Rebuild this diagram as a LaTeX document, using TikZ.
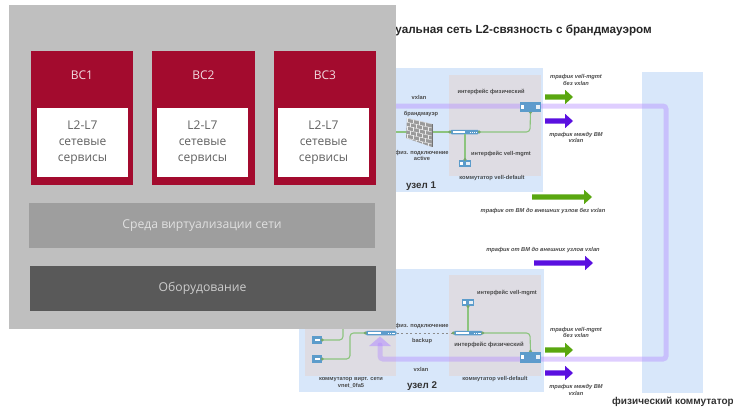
\documentclass[tikz,border=0pt]{standalone}
\usepackage{fontspec}
\setmainfont{Liberation Sans}
\newfontfamily\panelfont{Open Sans}
\usetikzlibrary{arrows.meta}
\definecolor{nodeblue}{HTML}{D8E7FA}
\definecolor{innergray}{HTML}{DEDCE3}
\definecolor{wire}{HTML}{8CC47E}
\definecolor{iface}{HTML}{5C9CCB}
\definecolor{crimson}{HTML}{A30B2E}
\definecolor{lbl}{HTML}{4A4A4A}
\definecolor{flowgreen}{HTML}{5AA710}
\definecolor{flowviolet}{HTML}{5A10E0}
\definecolor{vlancol}{HTML}{B48CFF}
\definecolor{wallgray}{HTML}{9A9A9A}
\tikzset{
  tiny/.style={font=\fontsize{5.7}{6.6}\selectfont\bfseries,text=lbl,align=center,inner sep=0pt},
  itl/.style={font=\fontsize{5.7}{6.6}\selectfont\bfseries\itshape,text=lbl,align=center,inner sep=0pt},
  big/.style={font=\fontsize{9.8}{11}\selectfont\bfseries,text=black!80,inner sep=0pt},
  zone/.style={fill=nodeblue,draw=none},
  inner/.style={fill=innergray,draw=none},
  wireline/.style={draw=wire,line width=1.1pt,rounded corners=3.5pt},
  vlan/.style={draw=vlancol,draw opacity=.42,line width=5pt,rounded corners=3pt,line cap=round},
  ifacebox/.style={fill=iface,draw=none,inner sep=0pt},
  sw/.style={fill=iface,draw=none,inner sep=0pt,rounded corners=1.5pt,minimum height=4.5pt,minimum width=29pt},
  crimsonbox/.style={fill=crimson,draw=none,inner sep=0pt,minimum width=102.5pt,minimum height=134pt},
  whitebox/.style={fill=white,draw=none,inner sep=0pt,minimum width=91pt,minimum height=69pt,
     font=\panelfont\fontsize{12}{16}\selectfont,text=black!62,align=center},
  bctext/.style={font=\panelfont\fontsize{12}{14}\selectfont,text=white!85!crimson,inner sep=0pt},
  barbox/.style={draw=none,inner sep=0pt,minimum width=346pt,minimum height=45pt,font=\panelfont\fontsize{12.2}{14}\selectfont},
}
\newcommand{\flowarrow}[5]{\fill[#1] (#2,#5-2.6) -- (#3-#4,#5-2.6) -- (#3-#4,#5-7.2) -- (#3,#5) -- (#3-#4,#5+7.2) -- (#3-#4,#5+2.6) -- (#2,#5+2.6) -- cycle;}
\newcommand{\portpair}[1]{%
  \fill[white] ([xshift=1.5pt,yshift=-1.7pt]#1.west) rectangle ++(2.6pt,3.4pt);
  \fill[white!85!iface] ([xshift=-5pt,yshift=-1.7pt]#1.east) rectangle ++(3.4pt,3.4pt);}
\newcommand{\swbar}[1]{%
  \fill[white] ([xshift=3pt,yshift=-1pt]#1.west) rectangle ++(12.5pt,2pt);
  \foreach \k in {0,1.9,3.8,5.7} \fill[white] ([xshift=-9pt+\k pt,yshift=-.5pt]#1.east) rectangle ++(1.1pt,1pt);}
\begin{document}
\begin{tikzpicture}[x=1pt,y=-1pt]
\useasboundingbox (0,0) rectangle (733,410);
\fill[white] (0,0) rectangle (733,410);
% title
\node[font=\fontsize{11.7}{13}\selectfont\bfseries,text=black!85,anchor=east,inner sep=0pt] (title) at (652,30) {Виртуальная сеть L2-связность с брандмауэром};
% zones
\fill[zone] (300,68) rectangle (543,192);
\fill[zone] (299,269) rectangle (544,392);
\fill[zone] (642,72) rectangle (703,393);
\fill[inner] (449,75) rectangle (541,176);
\fill[inner] (305,275) rectangle (396,376);
\fill[inner] (449,275) rectangle (541,376);
% devices, node 1
\node[sw] (swA) at (464.5,132) {};
\node[ifacebox,minimum width=21pt,minimum height=10pt] (phyA) at (530.5,107) {};
\node[ifacebox,minimum width=12pt,minimum height=7.5pt] (mgA) at (465,163.5) {};
\coordinate (wa) at (419.5,132);
\coordinate (lefta) at (300,132);
% devices, node 2
\node[sw,minimum width=31pt] (swB) at (381,333) {};
\node[sw] (swC) at (468,333) {};
\node[ifacebox,minimum width=21pt,minimum height=11pt] (phyB) at (530.5,357) {};
\node[ifacebox,minimum width=12pt,minimum height=7.5pt] (mgB) at (468,302.5) {};
\node[ifacebox,minimum width=10pt,minimum height=8pt] (vmA) at (317,340) {};
\node[ifacebox,minimum width=10pt,minimum height=8pt] (vmB) at (317,359) {};
\node[ifacebox,minimum width=10pt,minimum height=8pt] (vmC) at (317,322) {};
% green wires
\draw[wireline] (lefta) -- (wa) -- (swA.west);
\draw[wireline] (swA.east) -- (530,132) -- (phyA.south);
\draw[wireline] (mgA.north) -- (mgA.north |- swA.south);
\draw[wireline] (vmA.east) -- (343,340) -- (343,322) -- (vmC.east);
\draw[wireline] (vmB.east) -- (350,359) -- (350,333) -- (swB.west);
\draw[wireline] (swC.east) -- (530,333) -- (phyB.north);
\draw[wireline] (mgB.south) -- (mgB.south |- swC.north);
\draw[black!45,line width=.9pt,dash pattern=on 2pt off 2.5pt] (swB.east) -- (swC.west);
\foreach \p in {(lefta),(wa),(swA.west),(swA.east)} \fill[wire!85!black] \p circle (1.7pt);
\foreach \p in {(phyA.south),(mgA.north),(swC.west),(swC.east),(phyB.north),(mgB.south),(swB.west),(vmA.east),(vmB.east)} \fill[wire!85!black] \p circle (1.6pt);
% vxlan path
\coordinate (turn) at (666,359);
\draw[vlan] (300,106) -- (666,106) -- (turn) -- (380,359) -- (380,345);
\fill[vlancol,opacity=.55] (380,336.5) -- (391,346) -- (369,346) -- cycle;
% redraw ports on the path
\node[ifacebox,minimum width=21pt,minimum height=10pt,fill opacity=.9] (phyA2) at (phyA) {};
\node[ifacebox,minimum width=21pt,minimum height=11pt,fill opacity=.9] (phyB2) at (phyB) {};
\portpair{phyA}\portpair{phyB}\portpair{mgA}\portpair{mgB}
\swbar{swA}\swbar{swB}\swbar{swC}
\foreach \n in {vmA,vmB} \fill[white] ([xshift=-2.5pt,yshift=-1pt]\n.center) rectangle ++(5pt,2pt);
% firewall
\begin{scope}
  \fill[wallgray] (407,118) -- (432,124) -- (432,147) -- (406,138) -- cycle;
  \clip (407,118) -- (432,124) -- (432,147) -- (406,138) -- cycle;
  \foreach \r in {0,...,5} {
    \draw[white!85!gray,line width=.5pt] (406,118+\r*4) -- (433,124.2+\r*4);
    \foreach \c in {0,...,4} {
      \pgfmathsetmacro{\xx}{407+\c*6.2+mod(\r,2)*3.1}
      \pgfmathsetmacro{\yy}{118+\r*4+(\xx-407)*0.24}
      \draw[white!85!gray,line width=.5pt] (\xx,\yy) -- (\xx,\yy+4);
    }
  }
\end{scope}
\draw[black!55,line width=.7pt] (432,124) -- (432,147);
% flow arrows
\flowarrow{flowgreen}{545}{573}{8}{97}
\flowarrow{flowviolet}{545}{573}{8}{121}
\flowarrow{flowgreen}{532}{592}{8}{197}
\flowarrow{flowviolet}{534}{593}{8}{263}
\flowarrow{flowgreen}{545}{573}{8}{350}
\flowarrow{flowviolet}{545}{573}{8}{373}
% labels
\node[itl] (l1) at (576,80) {трафик vell-mgmt\\без vxlan};
\node[itl] (l2) at (576,137.5) {трафик между ВМ\\vxlan};
\node[itl] (l3) at (543,211) {трафик от ВМ до внешних узлов без vxlan};
\node[itl] (l4) at (543,250) {трафик от ВМ до внешних узлов vxlan};
\node[itl] (l5) at (576,332.5) {трафик vell-mgmt\\без vxlan};
\node[itl] (l6) at (576,390) {трафик между ВМ\\vxlan};
\node[tiny] (t1) at (491,92) {интерфейс физический};
\node[tiny] (t2) at (419,97) {vxlan};
\node[tiny] (t3) at (421,114) {брандмауэр};
\node[tiny] (t4) at (422,155.5) {физ. подключение\\active};
\node[tiny] (t5) at (501,154) {интерфейс vell-mgmt};
\node[tiny] (t6) at (492,178) {коммутатор vell-default};
\node[big] (u1) at (421,186) {узел 1};
\node[tiny] (t7) at (507,293) {интерфейс vell-mgmt};
\node[tiny] (t8) at (422,326) {физ. подключение};
\node[tiny] (t9) at (422,341) {backup};
\node[tiny,font=\fontsize{5.9}{7}\selectfont\bfseries] (t10) at (489,345) {интерфейс физический};
\node[tiny] (t11) at (421,369) {vxlan};
\node[tiny] (t12) at (351,383) {коммутатор вирт. сети\\vnet\_0fa5};
\node[big] (u2) at (422,386) {узел 2};
\node[tiny] (t13) at (495,379) {коммутатор vell-default};
\node[font=\fontsize{10}{11}\selectfont\bfseries,text=black!80,inner sep=0pt] (t14) at (673,402) {физический коммутатор};
% overlaid panel
\fill[black!25!white] (9,5) rectangle (396,329);
\foreach \x/\n/\w in {82/1/82.5,203.5/2/202.5,325/3/323.5} {
  \node[crimsonbox] (bc\n) at (\x,118) {};
  \node[bctext] (bct\n) at (\x,75) {ВС\n};
  \node[whitebox] (wb\n) at (\w,142.5) {L2-L7\\сетевые\\сервисы};
}
\node[barbox,fill=black!38!white,text=white!88!black] (env) at (202,225.5) {Среда виртуализации сети};
\node[barbox,fill=black!65!white,text=white!80!black] (hw) at (202.5,288) {Оборудование};
\end{tikzpicture}
\end{document}
